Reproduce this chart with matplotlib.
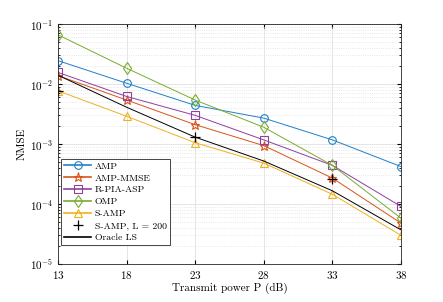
import numpy as np
import matplotlib.pyplot as plt

plt.rcParams['font.family'] = 'cmr10'
plt.rcParams['mathtext.fontset'] = 'cm'
plt.rcParams['axes.formatter.use_mathtext'] = True

P = [13, 18, 23, 28, 33, 38]
amp = [0.0245, 0.0103, 0.0044, 0.0027, 0.00117, 0.00042]
amp_mmse = [0.0138, 0.0054, 0.0021, 0.00094, 0.00027, 4.8e-5]
rpia = [0.0156, 0.0062, 0.0030, 0.00117, 0.00044, 9.1e-5]
omp = [0.066, 0.0183, 0.0054, 0.0019, 0.00044, 5.8e-5]
samp = [0.0077, 0.0029, 0.00105, 0.00048, 0.000145, 3.0e-5]
P_L200 = [13, 23, 33]
samp_L200 = [0.0077, 0.0013, 0.00026]
oracle = [0.014, 0.0041, 0.0013, 0.00052, 0.000166, 3.7e-5]

fig = plt.figure(figsize=(4.43, 3.02), dpi=100)
ax = fig.add_axes([58/443, 1-264/302, (401-58)/443, (264-24)/302])

lw = 0.7
ms = 5.5
ax.semilogy(P, amp, '-o', color='#1f80c8', lw=lw, ms=ms, mfc='none', mew=0.8, label='AMP')
ax.semilogy(P, amp_mmse, '-*', color='#D95319', lw=lw, ms=ms+1, mfc='none', mew=0.8, label='AMP-MMSE')
ax.semilogy(P, rpia, '-s', color='#8e3fa0', lw=lw, ms=ms, mfc='none', mew=0.8, label='R-PIA-ASP')
ax.semilogy(P, omp, '-d', color='#77AC30', lw=lw, ms=ms+0.5, mfc='none', mew=0.8, label='OMP')
ax.semilogy(P, samp, '-^', color='#EDB120', lw=lw, ms=ms, mfc='none', mew=0.8, label='S-AMP')
ax.semilogy(P_L200, samp_L200, '+', color='k', ms=ms+1, mew=0.9, linestyle='none', label='S-AMP, L = 200')
ax.semilogy(P, oracle, '-', color='k', lw=lw, label='Oracle LS')

ax.set_xlim(13, 38)
ax.set_ylim(1e-5, 1e-1)
ax.set_xticks(P)
ax.grid(True, which='major', color='#e0e0e0', lw=0.6)
ax.grid(True, which='minor', color='#e0e0e0', lw=0.6, linestyle=':')
ax.tick_params(which='both', direction='in', top=True, right=True, labelsize=8)
ax.tick_params(which='major', length=3)
ax.tick_params(which='minor', length=1.5)
for s in ax.spines.values():
    s.set_linewidth(0.6)
    s.set_color('#262626')
ax.set_axisbelow(True)

ax.set_xlabel('Transmit power P (dB)', fontsize=8, labelpad=1)
ax.set_ylabel('NMSE', fontsize=8, labelpad=2)

leg = ax.legend(loc='lower left', bbox_to_anchor=(0.009, 0.079), fontsize=7,
                fancybox=False, edgecolor='#262626', framealpha=1, borderpad=0.3,
                labelspacing=0.32, handlelength=2.8, handletextpad=0.35, borderaxespad=0)
leg.get_frame().set_linewidth(0.6)
for h in leg.get_lines():
    h.set_linewidth(1.2)

fig.savefig('out.png', dpi=100)
